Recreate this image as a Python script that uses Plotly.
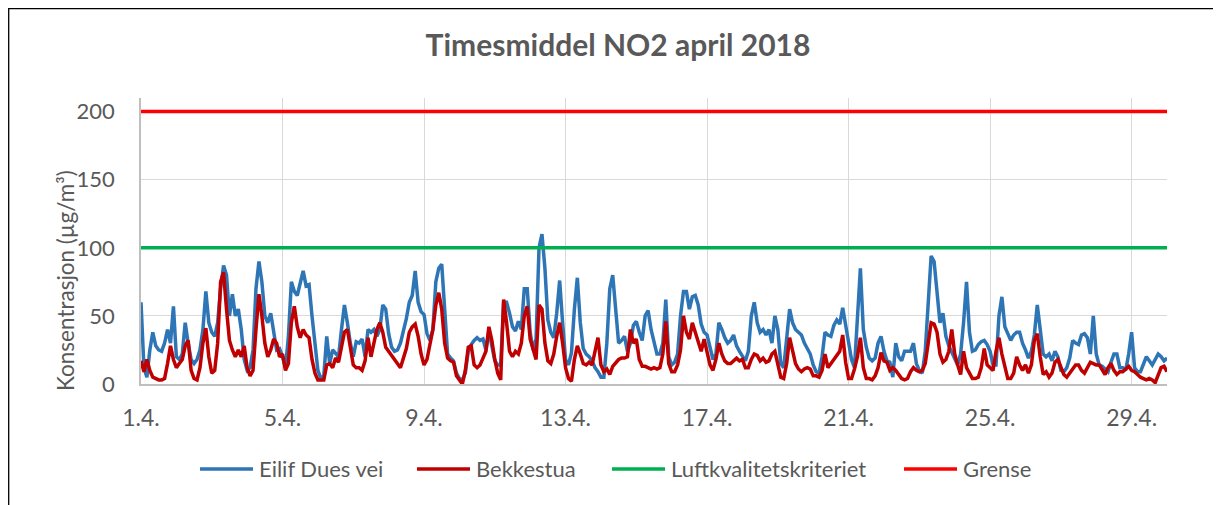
import plotly.graph_objects as go

# Hourly NO2 (sampled every 2 hours), April 2018. One row per day (00,02,...,22 h)
eilif_dues_vei = [
    60, 12, 5, 25, 38, 28, 25, 24, 30, 40, 30, 57,
    20, 18, 22, 45, 30, 18, 15, 18, 25, 40, 68, 45,
    38, 35, 45, 70, 87, 80, 50, 66, 50, 55, 40, 18,
    10, 12, 25, 70, 90, 75, 50, 45, 52, 40, 25, 26,
    20, 12, 35, 75, 68, 65, 75, 83, 72, 73, 50, 32,
    10, 4, 6, 35, 15, 25, 22, 20, 40, 58, 45, 30,
    20, 31, 30, 33, 20, 40, 38, 40, 35, 40, 58, 55,
    37, 27, 24, 25, 30, 38, 48, 60, 65, 83, 60, 53,
    51, 37, 32, 40, 75, 85, 88, 55, 22, 19, 17, 8,
    4, 3, 8, 24, 29, 32, 34, 32, 33, 25, 39, 28,
    17, 14, 14, 60, 60, 52, 42, 39, 46, 40, 70, 70,
    38, 25, 33, 100, 110, 85, 47, 38, 34, 52, 76, 45,
    18, 14, 23, 55, 78, 45, 26, 22, 20, 17, 12, 9,
    5, 5, 30, 70, 80, 55, 30, 32, 35, 24, 30, 43,
    46, 38, 32, 50, 54, 40, 30, 22, 22, 30, 62, 20,
    14, 16, 22, 50, 68, 68, 55, 64, 65, 58, 44, 38,
    36, 26, 18, 22, 45, 40, 34, 30, 32, 36, 28, 24,
    20, 17, 24, 50, 60, 45, 38, 40, 36, 40, 30, 50,
    40, 15, 12, 35, 55, 45, 40, 38, 36, 30, 26, 22,
    14, 9, 8, 20, 38, 36, 35, 43, 47, 44, 56, 42,
    30, 18, 12, 45, 85, 40, 27, 19, 17, 19, 30, 35,
    24, 17, 16, 5, 30, 20, 17, 24, 24, 24, 30, 15,
    10, 8, 24, 55, 94, 90, 68, 45, 52, 35, 28, 23,
    19, 14, 22, 45, 75, 38, 24, 25, 29, 31, 32, 29,
    24, 14, 14, 50, 64, 42, 37, 32, 36, 38, 38, 30,
    25, 19, 24, 36, 58, 40, 22, 20, 22, 17, 24, 20,
    10, 9, 12, 19, 32, 30, 29, 36, 37, 34, 22, 50,
    22, 14, 13, 11, 9, 16, 22, 22, 12, 12, 10, 22,
    38, 12, 9, 9, 14, 20, 17, 14, 18, 22, 20, 17,
    19,
]

bekkestua = [
    17, 9, 18, 10, 5, 4, 3, 3, 4, 15, 28, 18,
    12, 15, 18, 28, 32, 10, 4, 3, 12, 30, 41, 20,
    8, 10, 30, 75, 82, 55, 32, 25, 20, 25, 20, 28,
    12, 6, 10, 40, 66, 50, 30, 20, 25, 33, 30, 20,
    22, 10, 15, 45, 57, 42, 34, 40, 36, 34, 18, 8,
    3, 3, 3, 14, 15, 12, 19, 16, 28, 38, 40, 25,
    14, 12, 12, 10, 17, 34, 20, 30, 40, 45, 38, 27,
    24, 20, 17, 14, 12, 19, 26, 38, 42, 44, 35, 22,
    14, 18, 28, 40, 58, 67, 55, 30, 19, 17, 16, 6,
    3, 0, 10, 27, 28, 14, 12, 14, 19, 24, 42, 32,
    18, 8, 3, 62, 45, 24, 20, 24, 22, 30, 50, 57,
    33, 25, 18, 58, 55, 30, 17, 15, 22, 35, 45, 30,
    12, 4, 2, 18, 28, 22, 15, 14, 16, 14, 25, 34,
    14, 9, 11, 7, 13, 16, 18, 19, 19, 20, 40, 30,
    33, 18, 13, 13, 12, 11, 12, 11, 12, 22, 46, 15,
    9, 9, 14, 25, 50, 38, 33, 45, 38, 30, 24, 33,
    24, 14, 10, 18, 30, 22, 17, 15, 15, 17, 19, 17,
    18, 12, 12, 18, 22, 21, 17, 19, 16, 17, 22, 24,
    15, 5, 4, 15, 34, 24, 15, 11, 9, 11, 12, 11,
    6, 6, 5, 10, 22, 12, 15, 17, 20, 24, 36, 16,
    4, 4, 11, 20, 34, 12, 4, 4, 3, 6, 12, 23,
    17, 16, 10, 12, 10, 7, 4, 3, 4, 9, 12, 10,
    9, 10, 15, 30, 45, 44, 38, 22, 16, 18, 24, 40,
    22, 14, 7, 24, 12, 8, 4, 4, 5, 12, 26, 14,
    12, 10, 24, 34, 22, 12, 4, 4, 8, 20, 14, 10,
    14, 8, 14, 32, 37, 20, 7, 9, 5, 8, 16, 18,
    12, 7, 5, 8, 12, 14, 14, 10, 8, 12, 16, 15,
    14, 14, 10, 7, 12, 15, 10, 7, 9, 9, 11, 13,
    10, 9, 7, 5, 4, 3, 4, 3, 1, 7, 12, 13,
    9,
]

luftkvalitetskriteriet = 100
grense = 200

tick_labels = ["1.4.", "5.4.", "9.4.", "13.4.", "17.4.", "21.4.", "25.4.", "29.4."]
tick_hours = [0, 96, 192, 288, 384, 480, 576, 672]
hours = list(range(0, 2 * len(eilif_dues_vei), 2))
end_hour = hours[-1]

series_names = ["Eilif Dues vei", "Bekkestua", "Luftkvalitetskriteriet", "Grense"]
series_colors = ["#2E75B6", "#C00000", "#00B050", "#FF0000"]

FONT = "Lato"
GREY = "#595959"
LW = 3.5

# page offset (browser body margin) compensation
OFF = 8
W, H = 1221, 505
PL, PR, PT, PB = 141, 1167, 98, 384          # plot box on screen
L, T = PL - OFF, PT - OFF
R, B = W - (PR - OFF), H - (PB - OFF)
pw, ph = PR - PL, PB - PT


def px(sx):
    return (sx - PL) / pw


def py(sy):
    return (PB - sy) / ph


fig = go.Figure()
fig.add_trace(go.Scatter(x=hours, y=eilif_dues_vei, mode="lines", name=series_names[0],
                         line=dict(color=series_colors[0], width=LW)))
fig.add_trace(go.Scatter(x=hours, y=bekkestua, mode="lines", name=series_names[1],
                         line=dict(color=series_colors[1], width=LW)))
fig.add_trace(go.Scatter(x=[0, end_hour], y=[luftkvalitetskriteriet] * 2, mode="lines",
                         name=series_names[2], line=dict(color=series_colors[2], width=LW)))
fig.add_trace(go.Scatter(x=[0, end_hour], y=[grense] * 2, mode="lines", name=series_names[3],
                         line=dict(color=series_colors[3], width=LW)))

# custom legend (line sample + label)
leg_y = 469
leg_lines = [(200, 253), (417, 470), (612, 665), (904, 957)]
shapes = []
annotations = []
for (x0, x1), name, col in zip(leg_lines, series_names, series_colors):
    shapes.append(dict(type="line", xref="paper", yref="paper", x0=px(x0), x1=px(x1),
                       y0=py(leg_y), y1=py(leg_y), line=dict(color=col, width=LW)))
    annotations.append(dict(text=name, xref="paper", yref="paper", x=px(x1 + 4), y=py(leg_y),
                            xanchor="left", yanchor="middle", showarrow=False,
                            font=dict(family=FONT, size=22, color=GREY)))

# y-axis title
annotations.append(dict(text="Konsentrasjon (µg/m³)", xref="paper", yref="paper",
                        x=px(65), y=py(281), textangle=-90, showarrow=False,
                        xanchor="center", yanchor="middle",
                        font=dict(family=FONT, size=22.5, color=GREY)))

# outer chart frame
shapes.append(dict(type="rect", xref="paper", yref="paper",
                   x0=px(OFF + 0.7), x1=px(1215), y0=py(520), y1=py(OFF + 0.7),
                   line=dict(color="#000000", width=1.3), fillcolor="rgba(0,0,0,0)",
                   layer="below"))

fig.update_layout(
    width=W, height=H,
    margin=dict(l=L, r=R, t=T, b=B, autoexpand=False),
    paper_bgcolor="white", plot_bgcolor="white",
    font=dict(family=FONT, color=GREY, size=22),
    title=dict(text="<b>Timesmiddel NO2 april 2018</b>", x=(618 - OFF) / W, xref="container",
               y=1 - (45 - OFF) / H, yref="container", yanchor="middle", xanchor="center",
               font=dict(family=FONT, size=30, color=GREY)),
    showlegend=False,
    xaxis=dict(range=[0, end_hour], tickvals=tick_hours, ticktext=tick_labels,
               showgrid=True, gridcolor="#D9D9D9", gridwidth=1.3,
               showline=True, linecolor="#BFBFBF", linewidth=1.5, zeroline=False,
               ticks="", ticklabelstandoff=13, tickfont=dict(size=23, color=GREY)),
    yaxis=dict(range=[0, 210], tickvals=[0, 50, 100, 150, 200],
               showgrid=True, gridcolor="#D9D9D9", gridwidth=1.3,
               showline=True, linecolor="#BFBFBF", linewidth=1.5, zeroline=False,
               ticks="", ticklabelstandoff=20, tickfont=dict(size=22, color=GREY)),
    shapes=shapes,
    annotations=annotations,
)

fig.write_html("out.html")
